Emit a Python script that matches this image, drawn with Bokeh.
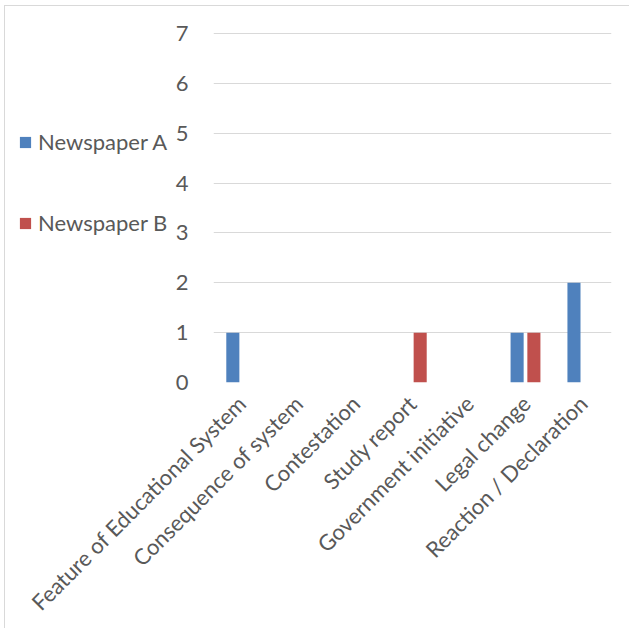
from bokeh.plotting import figure
from bokeh.models import FactorRange, Range1d, SingleIntervalTicker, Legend, LegendItem, ColumnDataSource
from bokeh.transform import dodge
from bokeh.embed import file_html
from bokeh.resources import INLINE
import math

categories = ["Feature of Educational System", "Consequence of system", "Contestation",
              "Study report", "Government initiative", "Legal change", "Reaction / Declaration"]
newspaper_a = [1, 0, 0, 0, 0, 1, 2]
newspaper_b = [0, 0, 0, 1, 0, 1, 0]
series_names = ["Newspaper A", "Newspaper B"]
colors = ["#4F81BD", "#C0504D"]

src = ColumnDataSource(dict(cat=categories, a=newspaper_a, b=newspaper_b))

FONT = "Lato"
TXT = "#595959"
GRID = "#d9d9d9"
FS = "22px"

# ---- main chart ----
p = figure(x_range=FactorRange(*categories, range_padding=0), y_range=Range1d(0, 7.02),
           frame_width=398, frame_height=350,
           min_border_left=208, min_border_right=18, min_border_top=26, min_border_bottom=236,
           output_backend="svg", toolbar_location=None)
p.styles = {"border-left": "1px solid #d9d9d9", "border-top": "1px solid #d9d9d9",
            "margin-left": "4px", "margin-top": "5px"}
p.outline_line_color = None

ra = p.vbar(x=dodge("cat", -0.16, range=p.x_range), top="a", width=0.23, source=src,
            fill_color=colors[0], line_color=None)
rb = p.vbar(x=dodge("cat", 0.135, range=p.x_range), top="b", width=0.23, source=src,
            fill_color=colors[1], line_color=None)

p.xgrid.grid_line_color = None
p.ygrid.grid_line_color = GRID
p.ygrid.grid_line_width = 1

p.yaxis.ticker = SingleIntervalTicker(interval=1)
p.yaxis.axis_line_color = None
p.yaxis.major_tick_line_color = None
p.yaxis.minor_tick_line_color = None
p.yaxis.major_label_standoff = 19
p.yaxis.major_label_text_font = FONT
p.yaxis.major_label_text_font_size = FS
p.yaxis.major_label_text_color = TXT

p.xaxis.axis_line_color = None
p.xaxis.major_tick_line_color = None
p.xaxis.minor_tick_line_color = None
p.xaxis.major_label_orientation = math.pi / 4
p.xaxis.major_label_standoff = 11
p.xaxis.major_label_text_font = FONT
p.xaxis.major_label_text_font_size = FS
p.xaxis.major_label_text_color = TXT

# ---- legend overlay (transparent figure placed over the chart's left area) ----
LEG_W, LEG_H = 190, 250
lf = figure(width=LEG_W, height=LEG_H, x_range=Range1d(0, 1), y_range=Range1d(0, 1),
            min_border=0, output_backend="svg", toolbar_location=None)
lf.outline_line_color = None
lf.background_fill_alpha = 0
lf.border_fill_alpha = 0
lf.axis.visible = False
lf.grid.grid_line_color = None
lf.styles = {"position": "absolute", "left": "0px", "top": "0px"}
# zero-size swatch renderers (nothing visible is drawn; they only supply legend swatches)
swatch = ColumnDataSource(dict(x=[0], top=[0]))
la = lf.vbar(x="x", top="top", width=0, source=swatch, fill_color=colors[0], line_color=None)
lb = lf.vbar(x="x", top="top", width=0, source=swatch, fill_color=colors[1], line_color=None)

legend = Legend(items=[LegendItem(label=series_names[0], renderers=[la]),
                       LegendItem(label=series_names[1], renderers=[lb])],
                location=(18, 14), orientation="vertical",
                padding=0, margin=0, spacing=54, border_line_color=None, background_fill_alpha=0,
                glyph_width=14, glyph_height=14, label_height=26, label_standoff=6,
                label_text_font=FONT, label_text_font_size=FS, label_text_color=TXT)
lf.add_layout(legend, "center")

open("out.html", "w").write(file_html([p, lf], INLINE))
